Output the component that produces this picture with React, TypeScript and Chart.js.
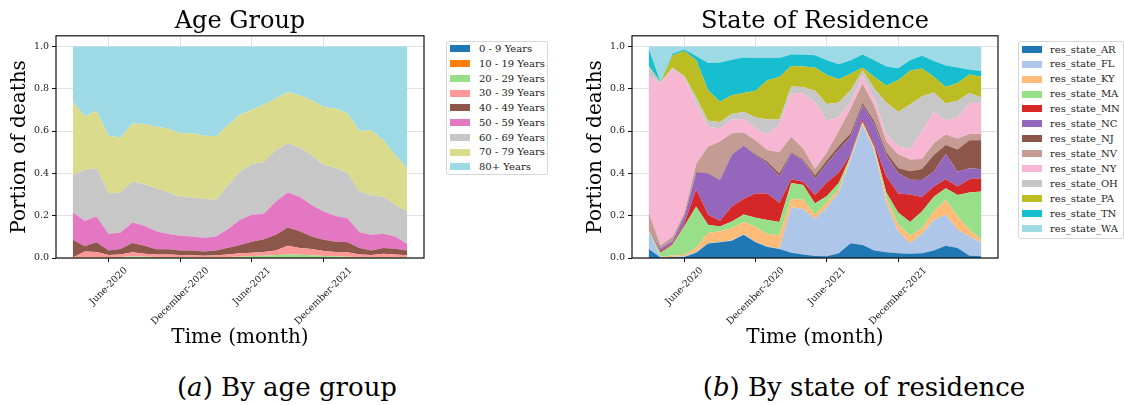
import React, { useEffect, useRef } from 'react';
import { Chart, registerables } from 'chart.js';

Chart.register(...registerables);

const SERIF = "'DejaVu Serif', serif";

// ---------- data ----------
const months = [
  '2020-03', '2020-04', '2020-05', '2020-06', '2020-07', '2020-08', '2020-09', '2020-10', '2020-11', '2020-12',
  '2021-01', '2021-02', '2021-03', '2021-04', '2021-05', '2021-06', '2021-07', '2021-08', '2021-09', '2021-10',
  '2021-11', '2021-12', '2022-01', '2022-02', '2022-03', '2022-04', '2022-05', '2022-06', '2022-07',
];
const tickMonths = ['2020-06', '2020-12', '2021-06', '2021-12'];
const tickLabels = ['June-2020', 'December-2020', 'June-2021', 'December-2021'];
const yTicks = [0, 0.2, 0.4, 0.6, 0.8, 1.0];

const ageGroups = [
  '0 - 9 Years', '10 - 19 Years', '20 - 29 Years', '30 - 39 Years', '40 - 49 Years',
  '50 - 59 Years', '60 - 69 Years', '70 - 79 Years', '80+ Years',
];
const age0to9 = [0.0005, 0.0005, 0.0005, 0.0005, 0.0005, 0.0005, 0.0005, 0.0005, 0.0005, 0.0005, 0.0005, 0.0005, 0.0005, 0.0005, 0.0005, 0.0005, 0.0005, 0.0005, 0.0005, 0.0005, 0.0005, 0.0005, 0.0005, 0.0005, 0.0005, 0.0005, 0.0005, 0.0005, 0.0005];
const age10to19 = [0.0005, 0.0005, 0.0005, 0.0005, 0.0005, 0.0005, 0.0005, 0.0005, 0.0005, 0.0005, 0.0005, 0.0005, 0.0005, 0.0005, 0.0005, 0.0005, 0.0005, 0.0005, 0.0005, 0.0005, 0.0005, 0.0005, 0.0005, 0.0005, 0.0005, 0.0005, 0.0005, 0.0005, 0.0005];
const age20to29 = [0.000, 0.002, 0.003, 0.003, 0.004, 0.007, 0.005, 0.004, 0.004, 0.004, 0.003, 0.003, 0.003, 0.004, 0.005, 0.008, 0.010, 0.013, 0.015, 0.014, 0.012, 0.009, 0.007, 0.005, 0.004, 0.003, 0.004, 0.003, 0.003];
const age30to39 = [0.001, 0.028, 0.024, 0.010, 0.012, 0.019, 0.014, 0.011, 0.011, 0.009, 0.009, 0.007, 0.009, 0.012, 0.016, 0.016, 0.017, 0.022, 0.042, 0.032, 0.029, 0.023, 0.020, 0.021, 0.012, 0.010, 0.015, 0.012, 0.009];
const age40to49 = [0.084, 0.024, 0.046, 0.022, 0.025, 0.044, 0.038, 0.025, 0.025, 0.022, 0.023, 0.020, 0.023, 0.032, 0.039, 0.052, 0.061, 0.074, 0.086, 0.079, 0.060, 0.053, 0.049, 0.047, 0.030, 0.022, 0.027, 0.028, 0.023];
const age50to59 = [0.129, 0.121, 0.122, 0.077, 0.079, 0.097, 0.094, 0.085, 0.072, 0.069, 0.066, 0.065, 0.066, 0.088, 0.120, 0.127, 0.120, 0.157, 0.165, 0.164, 0.149, 0.134, 0.122, 0.114, 0.075, 0.074, 0.068, 0.058, 0.030];
const age60to69 = [0.177, 0.240, 0.228, 0.193, 0.188, 0.193, 0.197, 0.204, 0.196, 0.185, 0.184, 0.183, 0.173, 0.208, 0.227, 0.239, 0.246, 0.243, 0.233, 0.231, 0.236, 0.220, 0.228, 0.215, 0.192, 0.185, 0.175, 0.149, 0.154];
const age70to79 = [0.346, 0.254, 0.271, 0.272, 0.261, 0.275, 0.284, 0.290, 0.302, 0.300, 0.303, 0.299, 0.300, 0.283, 0.270, 0.257, 0.270, 0.242, 0.243, 0.248, 0.259, 0.274, 0.279, 0.280, 0.286, 0.309, 0.267, 0.236, 0.204];
const age80plus = [0.262, 0.330, 0.305, 0.422, 0.430, 0.364, 0.367, 0.380, 0.389, 0.410, 0.411, 0.422, 0.425, 0.372, 0.322, 0.300, 0.275, 0.248, 0.215, 0.231, 0.254, 0.286, 0.294, 0.317, 0.400, 0.396, 0.443, 0.513, 0.576];
const ageColors = ['#1f77b4', '#ff7f0e', '#98df8a', '#ff9896', '#8c564b', '#e377c2', '#c7c7c7', '#dbdb8d', '#9edae5'];

const states = [
  'res_state_AR', 'res_state_FL', 'res_state_KY', 'res_state_MA', 'res_state_MN', 'res_state_NC', 'res_state_NJ',
  'res_state_NV', 'res_state_NY', 'res_state_OH', 'res_state_PA', 'res_state_TN', 'res_state_WA',
];
const stateAR = [0.042, 0.002, 0.003, 0.005, 0.025, 0.068, 0.074, 0.082, 0.110, 0.075, 0.052, 0.042, 0.025, 0.016, 0.010, 0.008, 0.023, 0.070, 0.062, 0.035, 0.027, 0.022, 0.020, 0.023, 0.036, 0.058, 0.047, 0.011, 0.008];
const stateFL = [0.083, 0.002, 0.002, 0.003, 0.003, 0.002, 0.002, 0.002, 0.002, 0.002, 0.002, 0.002, 0.215, 0.216, 0.175, 0.232, 0.287, 0.395, 0.566, 0.470, 0.233, 0.103, 0.050, 0.092, 0.144, 0.146, 0.086, 0.091, 0.066];
const stateKY = [0.002, 0.002, 0.007, 0.007, 0.020, 0.048, 0.050, 0.057, 0.058, 0.071, 0.058, 0.064, 0.040, 0.043, 0.020, 0.022, 0.015, 0.010, 0.008, 0.010, 0.025, 0.035, 0.035, 0.027, 0.040, 0.071, 0.063, 0.031, 0.012];
const stateMA = [0.003, 0.019, 0.051, 0.135, 0.195, 0.039, 0.023, 0.032, 0.035, 0.042, 0.068, 0.062, 0.075, 0.070, 0.053, 0.031, 0.030, 0.007, 0.008, 0.008, 0.025, 0.055, 0.065, 0.078, 0.070, 0.055, 0.102, 0.176, 0.228];
const stateMN = [0.001, 0.007, 0.005, 0.010, 0.082, 0.047, 0.027, 0.070, 0.075, 0.115, 0.125, 0.090, 0.017, 0.015, 0.040, 0.064, 0.049, 0.006, 0.012, 0.012, 0.075, 0.090, 0.130, 0.068, 0.048, 0.042, 0.040, 0.063, 0.063];
const stateNC = [0.001, 0.013, 0.012, 0.030, 0.078, 0.196, 0.193, 0.244, 0.250, 0.182, 0.140, 0.125, 0.123, 0.100, 0.077, 0.089, 0.106, 0.085, 0.066, 0.095, 0.100, 0.095, 0.070, 0.081, 0.070, 0.119, 0.070, 0.052, 0.042];
const stateNJ = [0.001, 0.002, 0.002, 0.010, 0.003, 0.002, 0.002, 0.003, 0.003, 0.003, 0.010, 0.015, 0.005, 0.005, 0.015, 0.016, 0.020, 0.016, 0.011, 0.015, 0.015, 0.025, 0.040, 0.051, 0.079, 0.043, 0.105, 0.133, 0.138];
const stateNV = [0.082, 0.013, 0.018, 0.010, 0.039, 0.124, 0.179, 0.099, 0.060, 0.065, 0.055, 0.100, 0.073, 0.053, 0.030, 0.038, 0.070, 0.117, 0.091, 0.075, 0.050, 0.065, 0.055, 0.048, 0.055, 0.050, 0.052, 0.029, 0.029];
const stateNY = [0.647, 0.767, 0.793, 0.645, 0.285, 0.094, 0.062, 0.066, 0.064, 0.057, 0.075, 0.130, 0.207, 0.260, 0.315, 0.148, 0.065, 0.032, 0.041, 0.030, 0.035, 0.037, 0.050, 0.130, 0.149, 0.067, 0.099, 0.147, 0.147];
const stateOH = [0.043, 0.001, 0.007, 0.005, 0.030, 0.028, 0.031, 0.025, 0.033, 0.053, 0.070, 0.025, 0.030, 0.030, 0.055, 0.080, 0.070, 0.055, 0.022, 0.050, 0.150, 0.163, 0.210, 0.165, 0.091, 0.079, 0.079, 0.047, 0.025];
const statePA = [0.005, 0.001, 0.057, 0.118, 0.174, 0.145, 0.095, 0.089, 0.090, 0.125, 0.185, 0.200, 0.097, 0.097, 0.110, 0.137, 0.110, 0.078, 0.013, 0.055, 0.080, 0.150, 0.160, 0.132, 0.074, 0.078, 0.084, 0.087, 0.098];
const stateTN = [0.080, 0.003, 0.008, 0.007, 0.021, 0.128, 0.186, 0.168, 0.168, 0.155, 0.105, 0.090, 0.055, 0.057, 0.058, 0.070, 0.070, 0.063, 0.062, 0.080, 0.090, 0.057, 0.050, 0.061, 0.075, 0.102, 0.073, 0.023, 0.028];
const stateWA = [0.010, 0.168, 0.035, 0.015, 0.045, 0.079, 0.076, 0.063, 0.052, 0.055, 0.055, 0.055, 0.038, 0.038, 0.042, 0.065, 0.085, 0.066, 0.038, 0.065, 0.095, 0.103, 0.065, 0.044, 0.069, 0.090, 0.100, 0.110, 0.116];
const stateColors = ['#1f77b4', '#aec7e8', '#ffbb78', '#98df8a', '#d62728', '#9467bd', '#8c564b', '#c49c94', '#f7b6d2', '#c7c7c7', '#bcbd22', '#17becf', '#9edae5'];

const ageSeries = [age0to9, age10to19, age20to29, age30to39, age40to49, age50to59, age60to69, age70to79, age80plus];
const stateSeries = [stateAR, stateFL, stateKY, stateMA, stateMN, stateNC, stateNJ, stateNV, stateNY, stateOH, statePA, stateTN, stateWA];

// ---------- style constants ----------
const GRID = 'rgba(150,150,150,0.28)';
const TICK_FONT = 9.5;
const CANVAS_H = 360;

const framePlugin = {
  id: 'axesFrame',
  afterDraw(chart: any) {
    const { ctx, chartArea: a } = chart;
    ctx.save();
    ctx.strokeStyle = '#111';
    ctx.lineWidth = 1.2;
    ctx.strokeRect(a.left, a.top, a.right - a.left, a.bottom - a.top);
    ctx.restore();
  },
};

const rotatedXLabels = {
  id: 'rotatedXLabels',
  afterDraw(chart: any) {
    const xs = chart.scales.x;
    const ctx = chart.ctx;
    ctx.save();
    ctx.font = `${TICK_FONT}px ${SERIF}`;
    ctx.fillStyle = '#222';
    ctx.textAlign = 'center';
    ctx.textBaseline = 'middle';
    tickMonths.forEach((m, k) => {
      const label = tickLabels[k];
      const x = xs.getPixelForValue(months.indexOf(m));
      const w = ctx.measureText(label).width;
      const cy = xs.top + 4 + 3.5 + ((w + TICK_FONT) * Math.SQRT1_2) / 2;
      ctx.save();
      ctx.translate(x, cy);
      ctx.rotate(-Math.PI / 4);
      ctx.fillText(label, 0, 0);
      ctx.restore();
    });
    ctx.restore();
  },
};

function makeConfig(title: string, names: string[], series: number[][], colors: string[]): any {
  return {
    type: 'line',
    data: {
      datasets: names.map((name, d) => ({
        label: name,
        data: months.map((_m, i) => ({ x: i, y: series[d][i] })),
        backgroundColor: colors[d],
        borderColor: colors[d],
        borderWidth: 0,
        pointRadius: 0,
        pointHoverRadius: 0,
        tension: 0,
        fill: d === 0 ? 'origin' : '-1',
      })),
    },
    options: {
      responsive: false,
      animation: false,
      events: [],
      layout: { padding: { left: 0, top: 0, right: 16, bottom: 0 } },
      plugins: {
        legend: { display: false },
        tooltip: { enabled: false },
        title: {
          display: true,
          text: title,
          fullSize: false,
          color: '#000',
          font: { family: SERIF, size: 24, weight: 'normal', lineHeight: 1.2 },
          padding: { top: 7, bottom: 0 },
        },
      },
      scales: {
        x: {
          type: 'linear',
          min: -1.4,
          max: 29.4,
          z: 1,
          afterBuildTicks: (s: any) => {
            s.ticks = tickMonths.map((m) => ({ value: months.indexOf(m) }));
          },
          afterFit: (s: any) => {
            s.height = 102;
          },
          ticks: { display: false },
          grid: { color: GRID, lineWidth: 1, drawTicks: true, tickLength: 4, tickColor: '#111', tickWidth: 1 },
          border: { display: false },
          title: {
            display: true,
            text: 'Time (month)',
            color: '#000',
            font: { family: SERIF, size: 20, weight: 'normal', lineHeight: 1.2 },
            padding: { top: 0, bottom: 10.5 },
          },
        },
        y: {
          type: 'linear',
          stacked: true,
          min: 0,
          max: 1.05,
          z: 1,
          afterBuildTicks: (s: any) => {
            s.ticks = yTicks.map((v) => ({ value: v }));
          },
          afterFit: (s: any) => {
            s.width = 56;
          },
          ticks: {
            callback: (v: any) => Number(v).toFixed(1),
            color: '#222',
            font: { family: SERIF, size: TICK_FONT },
            padding: 3,
          },
          grid: { color: GRID, lineWidth: 1, drawTicks: true, tickLength: 4, tickColor: '#111', tickWidth: 1 },
          border: { display: false },
          title: {
            display: true,
            text: 'Portion of deaths',
            color: '#000',
            font: { family: SERIF, size: 20, weight: 'normal', lineHeight: 1.2 },
            padding: { top: 7.5, bottom: 0 },
          },
        },
      },
    },
    plugins: [framePlugin, rotatedXLabels],
  };
}

function StackChart(props: { left: number; width: number; title: string; names: string[]; series: number[][]; colors: string[] }) {
  const ref = useRef<HTMLCanvasElement | null>(null);
  useEffect(() => {
    if (!ref.current) return;
    const chart = new Chart(ref.current, makeConfig(props.title, props.names, props.series, props.colors));
    return () => chart.destroy();
  }, []);
  return (
    <canvas
      ref={ref}
      width={props.width}
      height={CANVAS_H}
      style={{ position: 'absolute', left: props.left, top: 0, width: props.width, height: CANVAS_H }}
    />
  );
}

function Legend(props: {
  left: number; top: number; width: number; height: number; names: string[]; colors: string[];
  rowTop: number; rowStep: number; swatchLeft: number; textLeft: number;
}) {
  return (
    <>
      <div
        style={{
          position: 'absolute', left: props.left, top: props.top, width: props.width, height: props.height,
          border: '1px solid #d6d6d6', borderRadius: 3, boxSizing: 'border-box', background: '#fff',
        }}
      />
      {props.names.map((n, k) => {
        const cy = props.rowTop + props.rowStep * k;
        return (
          <React.Fragment key={n}>
            <div style={{ position: 'absolute', left: props.swatchLeft, top: cy - 3.5, width: 20, height: 7, background: props.colors[k] }} />
            <div
              style={{
                position: 'absolute', left: props.textLeft, top: cy - 4.8, fontFamily: SERIF, fontSize: 10,
                lineHeight: '10px', color: '#222', whiteSpace: 'nowrap',
              }}
            >
              {n}
            </div>
          </React.Fragment>
        );
      })}
    </>
  );
}

function Caption(props: { center: number; letter: string; text: string }) {
  return (
    <div
      style={{
        position: 'absolute', left: props.center - 300, width: 600, top: 374, textAlign: 'center',
        fontFamily: SERIF, fontSize: 26, lineHeight: '26px', color: '#000', whiteSpace: 'nowrap',
      }}
    >
      (<i>{props.letter}</i>) {props.text}
    </div>
  );
}

export default function App() {
  return (
    <div style={{ position: 'absolute', left: 0, top: 0, width: 1125, height: 405, background: '#fff', overflow: 'hidden' }}>
      <StackChart left={0} width={440} title="Age Group" names={ageGroups} series={ageSeries} colors={ageColors} />
      <StackChart left={576} width={438} title="State of Residence" names={states} series={stateSeries} colors={stateColors} />
      <Legend left={446} top={41} width={102} height={134} names={ageGroups} colors={ageColors}
        rowTop={48.8} rowStep={14.75} swatchLeft={450} textLeft={479} />
      <Legend left={1018} top={41} width={106} height={198} names={states} colors={stateColors}
        rowTop={49.3} rowStep={14.92} swatchLeft={1022} textLeft={1050} />
      <Caption center={287} letter="a" text="By age group" />
      <Caption center={864} letter="b" text="By state of residence" />
    </div>
  );
}
